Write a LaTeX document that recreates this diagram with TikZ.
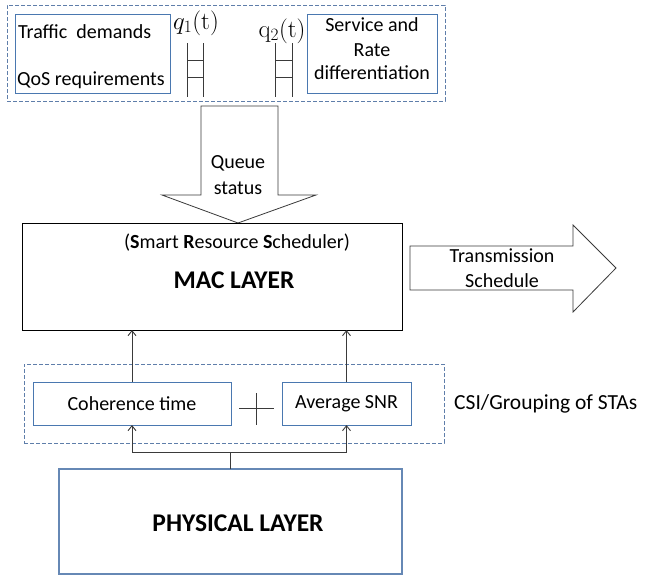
\documentclass[tikz,border=0pt]{standalone}
\usepackage[no-math]{fontspec}
\setmainfont{Carlito}
\usetikzlibrary{arrows.meta}
\definecolor{dashc}{HTML}{5F7EAA}
\definecolor{boxc}{HTML}{4A78B0}
\definecolor{physc}{HTML}{6688B5}
\definecolor{linec}{HTML}{3A3A3A}
\begin{document}
\begin{tikzpicture}[x=1pt,y=-1pt,
  txt/.style={font=\fontsize{20}{23}\selectfont, inner sep=0pt},
  csitxt/.style={font=\fontsize{21.5}{25}\selectfont, inner sep=0pt},
  bigtxt/.style={font=\fontsize{25.5}{29}\selectfont\bfseries, inner sep=0pt},
  qtxt/.style={font=\fontsize{26}{28}\selectfont, inner sep=0pt},
  box/.style={inner sep=0pt, outer sep=0pt},
  bluebox/.style={box, draw=boxc, line width=0.9pt},
  dashbox/.style={box, draw=dashc, dash pattern=on 4pt off 2pt, line width=0.8pt},
  conn/.style={draw=linec, line width=0.9pt},
  tip/.style={-{Straight Barb[length=5pt,width=8pt]}},
  bigarrow/.style={draw=linec, line width=0.8pt, fill=white}
]
\useasboundingbox (0,0) rectangle (647,576);

% top group
\node[dashbox, minimum width=438pt, minimum height=96pt] (topgrp) at (226,53) {};
\node[bluebox, minimum width=155pt, minimum height=79pt] (traffic) at (92.5,53.5) {};
\node[txt, anchor=west] (t1) at (18,32) {Traffic\ \ demands};
\node[txt, anchor=west] (t2) at (17,80) {QoS requirements};
\node[bluebox, minimum width=130pt, minimum height=79pt] (service) at (372,53.5) {};
\node[txt] (s1) at (372,25) {Service and};
\node[txt] (s2) at (372,50) {Rate};
\node[txt] (s3) at (372,73) {differentiation};

% queues
\draw[linec, line width=0.9pt] (187,43)--(187,97) (203,43)--(203,97) (187,60)--(203,60) (187,77)--(203,77);
\draw[linec, line width=0.9pt] (275,43)--(275,97) (292,43)--(292,97) (275,60)--(292,60) (275,77)--(292,77);
\node[qtxt] (q1) at (196,23) {$q_1(\mathrm{t})$};
\node[qtxt] (q2) at (282,31) {$\mathrm{q}_2(\mathrm{t})$};

% queue status arrow
\draw[bigarrow] (201,106) -- (278,106) -- (278,195) -- (316,195) -- (238,223) -- (162,195) -- (201,195) -- cycle;
\node[txt] (qs1) at (238,163) {Queue};
\node[txt] (qs2) at (238,188) {status};

% MAC layer
\node[box, draw=black, line width=0.9pt, minimum width=380pt, minimum height=107pt] (mac) at (212,276.5) {};
\node[txt] (srs) at (237,243) {(\textbf{S}mart \textbf{R}esource \textbf{S}cheduler)};
\node[bigtxt] (macl) at (234,280) {MAC LAYER};

% transmission arrow
\draw[bigarrow] (410,246) -- (573,246) -- (573,225) -- (616,268) -- (573,312) -- (573,290) -- (410,290) -- cycle;
\node[txt] (tr1) at (502,256) {Transmission};
\node[txt] (tr2) at (502,281) {Schedule};

% CSI group
\node[dashbox, minimum width=420pt, minimum height=79pt] (csigrp) at (234,403.5) {};
\node[bluebox, minimum width=198pt, minimum height=43pt] (coh) at (132,403.5) {};
\node[txt] (cohl) at (132,403.5) {Coherence time};
\node[bluebox, minimum width=129pt, minimum height=43pt] (snr) at (346.5,403.5) {};
\node[txt] (snrl) at (346.5,403.5) {Average SNR};
\draw[linec, line width=0.9pt] (239,408) -- (274,408) (256,393) -- (256,425);
\node[csitxt, anchor=west] (csi) at (454,404) {CSI/Grouping of STAs};

% physical layer
\node[box, draw=physc, line width=1.2pt, minimum width=343pt, minimum height=105pt] (phys) at (230.5,521.5) {};
\node[bigtxt] (physl) at (238,523) {PHYSICAL LAYER};

% connectors
\draw[conn, tip] (coh.north) -- (coh.north |- mac.south);
\draw[conn, tip] (snr.north) -- (snr.north |- mac.south);
\coordinate (j) at (230.5,452);
\draw[conn, tip] (phys.north) -- (j) -| (coh.south);
\draw[conn, tip] (j) -| (snr.south);
\end{tikzpicture}
\end{document}
